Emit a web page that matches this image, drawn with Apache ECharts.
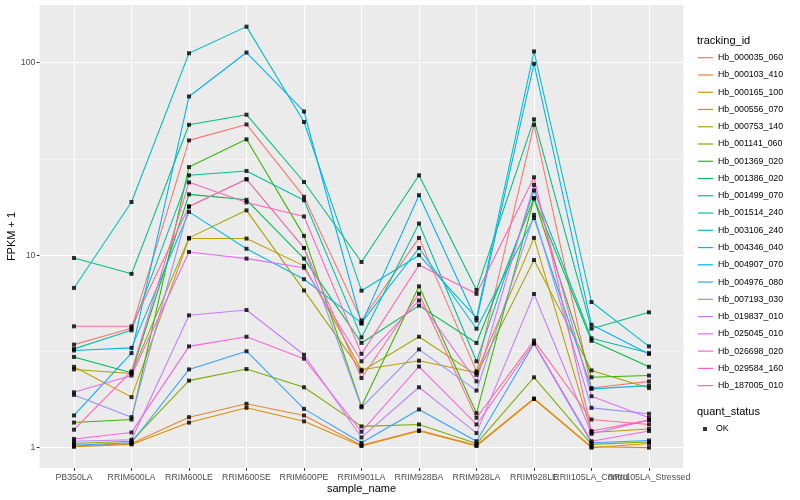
<!DOCTYPE html>
<html><head><meta charset="utf-8">
<script src="https://cdn.jsdelivr.net/npm/echarts@6/dist/echarts.min.js"></script>
<style>html,body{margin:0;padding:0;background:#fff}#c{width:800px;height:500px}</style>
</head><body><div id="c"></div>
<script>
const categories = ['PB350LA','RRIM600LA','RRIM600LE','RRIM600SE','RRIM600PE','RRIM901LA','RRIM928BA','RRIM928LA','RRIM928LE','RRII105LA_Control','RRII105LA_Stressed'];
const trackingIds = ['Hb_000035_060','Hb_000103_410','Hb_000165_100','Hb_000556_070','Hb_000753_140','Hb_001141_060','Hb_001369_020','Hb_001386_020','Hb_001499_070','Hb_001514_240','Hb_003106_240','Hb_004346_040','Hb_004907_070','Hb_004976_080','Hb_007193_030','Hb_019837_010','Hb_025045_010','Hb_026698_020','Hb_029584_160','Hb_187005_010'];
const lineColors = ['#F8766D','#EA8331','#D89000','#C09B00','#A3A500','#7CAE00','#39B600','#00BB4E','#00BF7D','#00C1A3','#00BFC4','#00BAE0','#00B0F6','#35A2FF','#9590FF','#C77CFF','#E76BF3','#FA62DB','#FF62BC','#FF6C91'];

const hb000035_060 = [3.43, 4.17, 39.5, 47.8, 20.1, 4.58, 12.3, 2.49, 47.6, 2.04, 2.21];
const hb000103_410 = [1.02, 1.05, 1.44, 1.69, 1.47, 1.03, 1.23, 1.03, 1.80, 1.01, 1.00];
const hb000165_100 = [1.01, 1.04, 1.35, 1.61, 1.37, 1.02, 1.22, 1.02, 1.79, 1.00, 1.05];
const hb000556_070 = [2.63, 1.83, 12.2, 12.2, 8.8, 2.54, 2.83, 2.45, 12.3, 1.20, 1.25];
const hb000753_140 = [2.55, 2.43, 12.3, 17.1, 6.56, 2.49, 3.77, 2.39, 9.44, 2.52, 2.04];
const hb001141_060 = [1.05, 1.08, 2.23, 2.56, 2.06, 1.29, 1.32, 1.05, 2.32, 1.04, 1.07];
const hb001369_020 = [1.35, 1.40, 28.7, 40.0, 12.6, 1.64, 6.89, 1.51, 19.7, 2.32, 2.37];
const hb001386_020 = [2.96, 2.45, 20.7, 19.4, 9.6, 3.50, 5.47, 3.50, 19.8, 3.59, 2.63];
const hb001499_070 = [9.67, 8.0, 47.6, 53.7, 24.0, 9.22, 26.0, 6.6, 50.8, 4.15, 5.05];
const hb001514_240 = [3.26, 4.07, 26.0, 27.4, 19.3, 3.74, 14.6, 2.81, 21.7, 3.70, 3.10];
const hb003106_240 = [6.76, 18.9, 112, 154, 49.2, 6.54, 10.0, 4.72, 114.5, 5.71, 3.36];
const hb004346_040 = [3.20, 3.30, 16.8, 10.8, 7.5, 4.45, 10.9, 4.15, 15.6, 2.02, 2.10];
const hb004907_070 = [1.47, 3.10, 66.8, 113, 55.8, 4.41, 20.5, 4.58, 98.8, 4.35, 3.07];
const hb004976_080 = [1.03, 1.06, 2.55, 3.17, 1.59, 1.06, 1.58, 1.08, 3.47, 1.06, 1.09];
const hb007193_030 = [1.88, 1.44, 17.9, 24.8, 10.9, 1.62, 3.24, 1.98, 16.2, 1.61, 1.50];
const hb019837_010 = [1.08, 1.10, 4.87, 5.19, 3.04, 1.13, 2.06, 1.19, 6.29, 1.18, 1.39];
const hb025045_010 = [1.94, 2.37, 10.4, 9.6, 8.6, 2.81, 5.82, 2.21, 23.2, 1.85, 1.43];
const hb026698_020 = [1.11, 1.20, 3.36, 3.77, 2.90, 1.21, 2.64, 1.32, 3.50, 1.08, 1.22];
const hb029584_160 = [1.24, 2.49, 23.9, 18.8, 15.9, 3.07, 8.9, 6.3, 25.4, 1.22, 1.39];
const hb187005_010 = [4.27, 4.27, 17.9, 24.8, 10.9, 2.30, 6.31, 1.43, 3.60, 1.40, 1.32];

const seriesValues = [hb000035_060, hb000103_410, hb000165_100, hb000556_070, hb000753_140, hb001141_060, hb001369_020, hb001386_020, hb001499_070, hb001514_240, hb003106_240, hb004346_040, hb004907_070, hb004976_080, hb007193_030, hb019837_010, hb025045_010, hb026698_020, hb029584_160, hb187005_010];

const yTickValues = [1, 10, 100];
const yTickLabels = ['1', '10', '100'];
const yMinorValues = [Math.sqrt(10), Math.sqrt(1000)];
const yMin = 0.784, yMax = 199.5;

const FONT = 'Liberation Sans';
const catIdx = categories.map((c, i) => i);
const evenIdx = catIdx.filter(i => i % 2 === 0);
const oddIdx = catIdx.filter(i => i % 2 === 1);

const lineSeries = trackingIds.map((id, k) => ({
  name: id, type: 'line', xAxisIndex: 0, yAxisIndex: 0,
  data: seriesValues[k].map((v, i) => [i, v]),
  showSymbol: false, symbol: 'none',
  itemStyle: { color: lineColors[k] },
  lineStyle: { color: lineColors[k], width: 1.07 },
  emphasis: { disabled: true }, silent: true, z: 2
}));
const pointData = [];
seriesValues.forEach(arr => arr.forEach((v, i) => pointData.push([i, v])));

const xBase = { type: 'value', min: -0.6, max: categories.length - 1 + 0.6, position: 'bottom', offset: 0, axisLine: { show: false, onZero: false } };
const xLabelStyle = { formatter: v => categories[Math.round(v)], color: '#4D4D4D', fontSize: 8.8, margin: 5, fontFamily: FONT, hideOverlap: false };
const yBase = { type: 'log', logBase: 10, min: yMin, max: yMax, position: 'left', offset: 0, axisLine: { show: false, onZero: false } };
const yLabelFor = v => {
  const k = yTickValues.findIndex(t => Math.abs(t - v) / t < 1e-6);
  return k >= 0 ? yTickLabels[k] : '';
};

const chart = echarts.init(document.getElementById('c'), null, { renderer: 'canvas' });
chart.setOption({
  animation: false,
  backgroundColor: '#fff',
  textStyle: { fontFamily: FONT },
  title: [
    { text: 'tracking_id', left: 697, top: 35, padding: 0, textStyle: { fontSize: 11, fontWeight: 'normal', color: '#000', fontFamily: FONT } },
    { text: 'quant_status', left: 697, top: 406, padding: 0, textStyle: { fontSize: 11, fontWeight: 'normal', color: '#000', fontFamily: FONT } }
  ],
  grid: { left: 39.5, right: 116.5, top: 5, bottom: 32, show: true, backgroundColor: '#EBEBEB', borderWidth: 0, containLabel: false, outerBoundsMode: 'none' },
  xAxis: [
    Object.assign({}, xBase, {
      axisTick: { show: false, customValues: catIdx },
      axisLabel: { show: false },
      splitLine: { show: true, lineStyle: { color: '#FFFFFF', width: 1.07 } }
    }),
    Object.assign({}, xBase, {
      axisTick: { show: true, customValues: catIdx, length: 2.75, lineStyle: { color: '#333333', width: 1.07 } },
      axisLabel: Object.assign({ customValues: evenIdx }, xLabelStyle),
      splitLine: { show: false },
      name: 'sample_name', nameLocation: 'middle', nameGap: 15, nameMoveOverlap: false,
      nameTextStyle: { color: '#000', fontSize: 11, fontFamily: FONT }
    }),
    Object.assign({}, xBase, {
      axisTick: { show: false, customValues: oddIdx },
      axisLabel: Object.assign({ customValues: oddIdx }, xLabelStyle),
      splitLine: { show: false }
    })
  ],
  yAxis: [
    Object.assign({}, yBase, {
      axisTick: { show: false }, axisLabel: { show: false }, splitLine: { show: false }
    }),
    Object.assign({}, yBase, {
      axisTick: { show: true, customValues: yTickValues, length: 2.75, lineStyle: { color: '#333333', width: 1.07 } },
      axisLabel: { customValues: yTickValues, formatter: yLabelFor, color: '#4D4D4D', fontSize: 8.8, margin: 4, fontFamily: FONT },
      splitLine: { show: true, lineStyle: { color: '#FFFFFF', width: 1.07 } },
      name: 'FPKM + 1', nameLocation: 'middle', nameGap: 22, nameMoveOverlap: false,
      nameTextStyle: { color: '#000', fontSize: 11, fontFamily: FONT }
    }),
    Object.assign({}, yBase, {
      axisTick: { show: false, customValues: yMinorValues },
      axisLabel: { show: false },
      splitLine: { show: true, lineStyle: { color: '#FFFFFF', width: 0.53 } }
    })
  ],
  legend: [{
    orient: 'vertical', left: 698, top: 52.7, padding: 0,
    itemWidth: 15, itemHeight: 1.2, itemGap: 7.26, icon: 'rect', selectedMode: false,
    data: trackingIds.map((id, k) => ({ name: id, itemStyle: { color: lineColors[k] } })),
    textStyle: { fontSize: 8.8, color: '#000', lineHeight: 10, fontFamily: FONT }
  }, {
    orient: 'vertical', left: 703, top: 424, padding: 0,
    itemWidth: 4, itemHeight: 4, icon: 'rect', selectedMode: false,
    data: [{ name: 'OK', itemStyle: { color: '#000' } }],
    textStyle: { fontSize: 8.8, color: '#000', lineHeight: 10, fontFamily: FONT, padding: [0, 0, 0, 4] }
  }],
  series: lineSeries.concat([{
    name: 'OK', type: 'scatter', xAxisIndex: 0, yAxisIndex: 0,
    data: pointData, symbol: 'rect', symbolSize: 4,
    itemStyle: { color: '#000' }, emphasis: { disabled: true }, silent: true, z: 5
  }])
});
</script></body></html>
